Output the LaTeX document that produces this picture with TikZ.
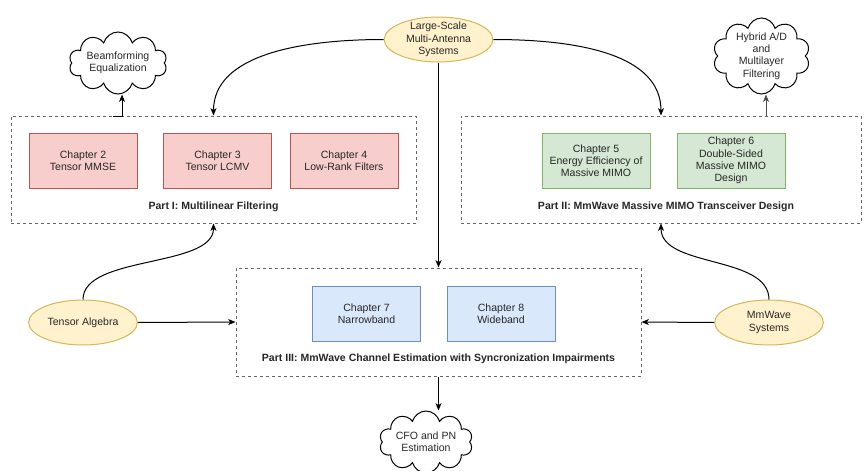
\documentclass[tikz,border=0pt]{standalone}
\usepackage{fontspec}
\setmainfont{Liberation Sans}
\usetikzlibrary{shapes.geometric,shapes.symbols,arrows.meta,fit}
\definecolor{redfill}{HTML}{F8CECC}
\definecolor{redline}{HTML}{B85450}
\definecolor{greenfill}{HTML}{D5E8D4}
\definecolor{greenline}{HTML}{82B366}
\definecolor{bluefill}{HTML}{DAE8FC}
\definecolor{blueline}{HTML}{6C8EBF}
\definecolor{yelfill}{HTML}{FFF2CC}
\definecolor{yelline}{HTML}{D6B656}
\begin{document}
\begin{tikzpicture}[x=0.75pt,y=-0.75pt,
  font=\fontsize{7.9}{9.2}\selectfont,
  chapbox/.style={draw, rectangle, minimum width=81pt, minimum height=41.25pt, inner sep=0pt, align=center, text=black!85, line width=0.75pt},
  redbox/.style={chapbox, fill=redfill, draw=redline},
  greenbox/.style={chapbox, fill=greenfill, draw=greenline},
  bluebox/.style={chapbox, fill=bluefill, draw=blueline},
  partbox/.style={draw=black!60, dash pattern=on 2.25pt off 2.25pt, line width=0.75pt, inner sep=0pt, rectangle},
  parttitle/.style={font=\fontsize{7.9}{9.2}\selectfont\bfseries, text=black!85},
  topic/.style={ellipse, draw=yelline, fill=yelfill, minimum width=81.5pt, minimum height=33.75pt, inner sep=0pt, line width=0.75pt},
  cloudnode/.style={cloud, cloud puffs=10, cloud ignores aspect, draw, fill=white, inner sep=0pt, line width=0.75pt},
  inlabel/.style={align=center, text=black!85, font=\fontsize{7.9}{9.2}\selectfont},
  arr/.style={line width=0.75pt, -{Stealth[length=5.5pt,width=4.5pt,inset=1.5pt]}}
]
\useasboundingbox (0,0) rectangle (864,471);

% Part boxes
\node[partbox, fit={(11,116) (416,223)}] (p1) {};
\node[partbox, fit={(461,116) (861,223)}] (p2) {};
\node[partbox, fit={(236,268) (641,376)}] (p3) {};

% chapters
\node[redbox] (c2) at (83,160.5) {Chapter 2\\Tensor MMSE};
\node[redbox] (c3) at (217.5,160.5) {Chapter 3\\Tensor LCMV};
\node[redbox] (c4) at (344,160.5) {Chapter 4\\Low-Rank Filters};
\node[greenbox] (c5) at (596,160.5) {Chapter 5\\Energy Efficiency of\\Massive MIMO};
\node[greenbox] (c6) at (731,160.5) {Chapter 6\\Double-Sided\\Massive MIMO\\Design};
\node[bluebox] (c7) at (366.5,314) {Chapter 7\\Narrowband};
\node[bluebox] (c8) at (501,314) {Chapter 8\\Wideband};

% part titles
\node[parttitle] (t1) at (213.5,207) {Part I: Multilinear Filtering};
\node[parttitle] (t2) at (666,207) {Part II: MmWave Massive MIMO Transceiver Design};
\node[parttitle] (t3) at (438.5,359) {Part III: MmWave Channel Estimation with Syncronization Impairments};

% topics
\node[topic, label={[inlabel]center:Large-Scale\\Multi-Antenna\\Systems}] (ls) at (438.5,39.5) {};
\node[topic, label={[inlabel]center:Tensor Algebra}] (ta) at (83,322.5) {};
\node[topic, label={[inlabel]center:MmWave\\Systems}] (mm) at (769,322.5) {};

% clouds
\node[cloudnode, minimum width=73.5pt, minimum height=46.5pt, label={[inlabel]center:Beamforming\\Equalization}] (bf) at (118,63) {};
\node[cloudnode, minimum width=72.75pt, minimum height=57pt, label={[inlabel]center:Hybrid A/D\\and\\Multilayer\\Filtering}] (hy) at (761.5,56) {};
\node[cloudnode, minimum width=70pt, minimum height=46.5pt, label={[inlabel]center:CFO and PN\\Estimation}] (cfo) at (426,442) {};

% connectors
\draw[arr] (ls.west) .. controls (300,39.5) and (213.5,55) .. (p1.north);
\draw[arr] (ls.east) .. controls (580,39.5) and (661,55) .. (p2.north);
\draw[arr] (ls.south) -- (p3.north);
\coordinate (b1) at (113,116);
\coordinate (b2) at (122,116);
\draw[arr] (b1) -- (b2) -- (b2 |- bf.south);
\coordinate (h1) at (766,116);
\draw[arr, draw=black!70] (h1) -- (h1 |- hy.south);
\draw[arr] (p3.south) -- (p3.south |- cfo.north);
\draw[arr] (ta.east) -- (p3.west);
\draw[arr] (mm.west) -- (p3.east);
\draw[arr] (ta.north) .. controls (83,255) and (213.5,268) .. (p1.south);
\draw[arr] (mm.north) .. controls (769,255) and (661,268) .. (p2.south);
\end{tikzpicture}
\end{document}
